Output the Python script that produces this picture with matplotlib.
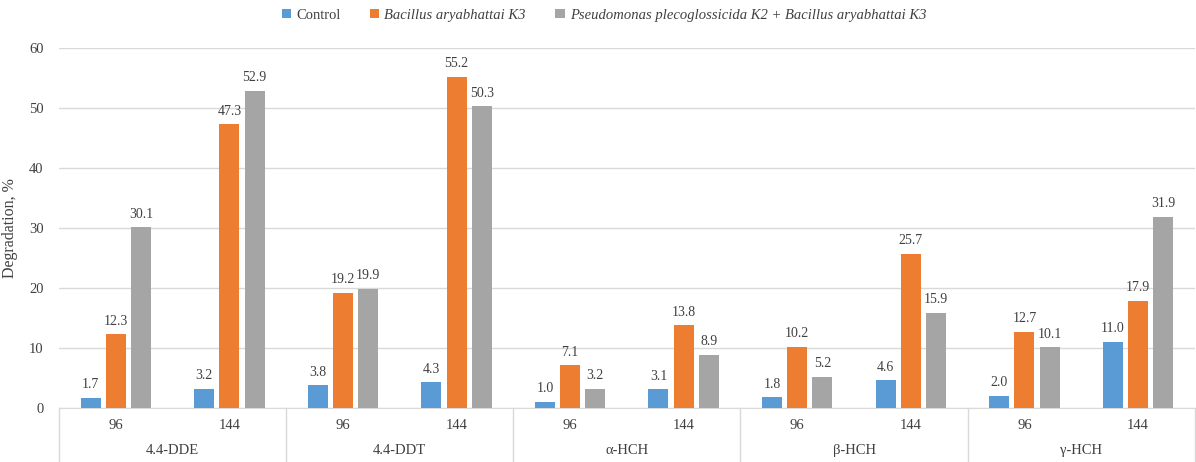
import numpy as np
import matplotlib.pyplot as plt
import matplotlib.transforms as mtransforms

# данные
compounds = ['4.4-DDE', '4.4-DDT', 'α-HCH', 'β-HCH', 'γ-HCH']
hours = ['96', '144']
series_names = ['Control', 'Bacillus aryabhattai K3',
                'Pseudomonas plecoglossicida K2 + Bacillus aryabhattai K3']
control = [1.7, 3.2, 3.8, 4.3, 1.0, 3.1, 1.8, 4.6, 2.0, 11.0]
bacillus = [12.3, 47.3, 19.2, 55.2, 7.1, 13.8, 10.2, 25.7, 12.7, 17.9]
mix = [30.1, 52.9, 19.9, 50.3, 3.2, 8.9, 5.2, 15.9, 10.1, 31.9]
COLORS = ['#5B9BD5', '#ED7D31', '#A5A5A5']

plt.rcParams['font.family'] = ['Liberation Serif', 'DejaVu Serif']
TXT = '#404040'

fig = plt.figure(figsize=(11.96, 4.62), dpi=100)
ax = fig.add_axes([0.0493, 0.117, 0.9497, 0.779])

x = np.arange(len(control))
width = 0.176
step = 0.222
for i, (vals, name) in enumerate(zip([control, bacillus, mix], series_names)):
    pos = x + (i - 1) * step
    ax.bar(pos, vals, width, color=COLORS[i], label=name, zorder=3)
    for px, v in zip(pos, vals):
        ax.text(px, v + 1.1, '%.1f' % v, ha='center', va='bottom',
                fontsize=10, color=TXT)

ax.set_xlim(-0.5, len(control) - 0.5)
ax.set_ylim(0, 60)
ax.set_yticks(np.arange(0, 61, 10))
ax.tick_params(axis='y', length=0, labelsize=10.5, labelcolor=TXT, pad=11)
ax.set_xticks([])
ax.grid(axis='y', color='#D9D9D9', linewidth=1, zorder=0)
for s in ['left', 'right', 'top']:
    ax.spines[s].set_visible(False)
ax.spines['bottom'].set_color('#D9D9D9')
ax.set_ylabel('Degradation, %', fontsize=11.5, color=TXT, labelpad=8)

# подписи по двум уровням
trans = mtransforms.blended_transform_factory(ax.transData, ax.transAxes)
for k in range(len(control)):
    ax.text(k, -0.048, hours[k % 2], transform=trans, ha='center', va='center',
            fontsize=10.5, color=TXT)
for g, name in enumerate(compounds):
    ax.text(2 * g + 0.5, -0.118, name, transform=trans, ha='center', va='center',
            fontsize=10.5, color=TXT)
for b in np.arange(-0.5, len(control), 2):
    ax.plot([b, b], [0, -0.15], transform=trans, color='#D9D9D9',
            linewidth=1, clip_on=False)

leg = fig.legend(loc='upper center', bbox_to_anchor=(0.505, 1.01), ncol=3,
                 frameon=False, fontsize=10.5, handlelength=0.65,
                 handleheight=0.65, handletextpad=0.35, columnspacing=2.0)
for i, t in enumerate(leg.get_texts()):
    t.set_color(TXT)
    if i > 0:
        t.set_style('italic')

plt.savefig('out.png', dpi=100)
